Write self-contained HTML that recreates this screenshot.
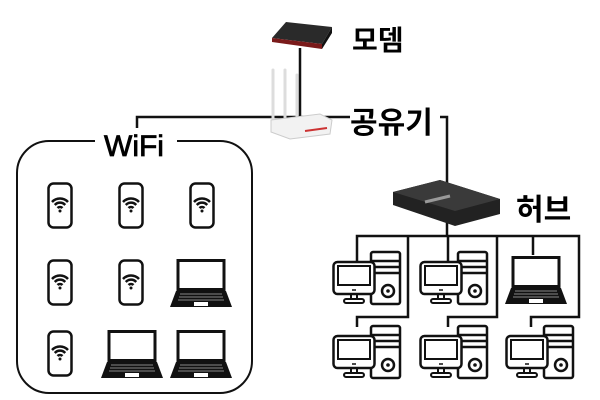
<!DOCTYPE html>
<html><head><meta charset="utf-8"><style>
html,body{margin:0;padding:0;background:#fff;width:600px;height:400px;overflow:hidden}
text{font-family:"Liberation Sans","Noto Sans CJK KR",sans-serif;font-weight:bold;fill:#000}
</style></head><body>
<svg width="600" height="400" viewBox="0 0 600 400" xmlns="http://www.w3.org/2000/svg">
<defs>
<g id="phone">
<rect x="1.5" y="1.5" width="23" height="44" rx="5" fill="#fff" stroke="#111" stroke-width="2.5"/>
<path d="M5 20 A11 11 0 0 1 21 20" fill="none" stroke="#111" stroke-width="2.5"/>
<path d="M7.8 23 A7 7 0 0 1 18.2 23" fill="none" stroke="#111" stroke-width="2.5"/>
<path d="M10.5 26 A3.5 3.5 0 0 1 15.5 26" fill="none" stroke="#111" stroke-width="2.5"/>
<circle cx="13" cy="29" r="1.5" fill="#111"/>
</g>
<g id="laptop">
<rect x="8" y="1.5" width="46" height="29" fill="#fff" stroke="#111" stroke-width="3"/>
<path d="M6 32 L56 32 L62 48 L0 48 Z" fill="#111"/>
<path d="M10 35 L52 35 M9 38 L53 38 M8 41 L54 41" stroke="#888" stroke-width="1"/>
<rect x="24" y="43" width="14" height="4" fill="#fff"/>
</g>
<g id="pc">
<rect x="39" y="0" width="29" height="52" rx="2" fill="#fff" stroke="#111" stroke-width="2.5"/>
<path d="M39 9 H68 M39 15 H68 M39 21 H68" stroke="#111" stroke-width="2.5"/>
<circle cx="56" cy="39" r="6" fill="none" stroke="#111" stroke-width="2.5"/>
<circle cx="56" cy="39" r="1.8" fill="#111"/>
<rect x="1.5" y="10" width="41" height="32" rx="4" fill="#fff" stroke="#111" stroke-width="2.5"/>
<rect x="6" y="14" width="32" height="19" fill="none" stroke="#111" stroke-width="2"/>
<path d="M20 38 H24" stroke="#111" stroke-width="1.5"/>
<path d="M19 42 V47 M25 42 V47" stroke="#111" stroke-width="2"/>
<rect x="12" y="47" width="20" height="4" rx="2" fill="#fff" stroke="#111" stroke-width="2"/>
</g>
</defs>

<g stroke="#111" stroke-width="2.5" fill="none">
<path d="M300 48 V116"/>
<path d="M137 130 V117 H350"/>
<path d="M440 117 H447 V236"/>
<path d="M357 262 V236 H579 V317 H531 V327"/>
<path d="M408 236 V317 H357 V327"/>
<path d="M448 236 V262"/>
<path d="M497 236 V317 H448 V327"/>
<path d="M533 236 V255"/>
</g>

<polygon points="272,38 286,22 332,27 322,44" fill="#2a2a2a"/>
<polygon points="272,38 322,44 322,49 272,42" fill="#7a1a1a"/>
<polygon points="322,44 332,27 332,33 322,49" fill="#111"/>

<g stroke="#ddd" stroke-width="3" stroke-linecap="round">
<path d="M273 70 V122 M285 70 V122 M297 75 V122"/>
</g>
<polygon points="271,120 320,114 332,120 330,134 290,139 271,132" fill="#f2f2f2" stroke="#ccc"/>
<path d="M305 131 L327 128" stroke="#c33" stroke-width="2"/>
<text x="352" y="50" font-size="28">모뎀</text>
<text x="350" y="133" font-size="30">공유기</text>

<polygon points="393,192 440,180 500,199 500,214 455,226 393,205" fill="#222"/>
<polygon points="393,192 440,180 500,199 455,211" fill="#3a3a3a"/>
<path d="M425 202 L450 196" stroke="#999" stroke-width="3"/>
<text x="516" y="220" font-size="30">허브</text>

<rect x="17" y="141" width="235" height="252" rx="32" fill="none" stroke="#111" stroke-width="2"/>
<rect x="95" y="128" width="82" height="28" fill="#fff"/>
<text x="104" y="156" font-size="30" style="font-weight:normal" stroke="#000" stroke-width="0.8">WiFi</text>

<use href="#phone" x="47" y="182"/>
<use href="#phone" x="118" y="182"/>
<use href="#phone" x="189" y="182"/>
<use href="#phone" x="47" y="259"/>
<use href="#phone" x="118" y="259"/>
<use href="#laptop" x="170" y="259"/>
<use href="#phone" x="47" y="330"/>
<use href="#laptop" x="101" y="330"/>
<use href="#laptop" x="170" y="330"/>

<use href="#pc" x="332" y="252"/>
<use href="#pc" x="419" y="252"/>
<use href="#laptop" x="505" y="256"/>
<use href="#pc" x="332" y="326"/>
<use href="#pc" x="419" y="326"/>
<use href="#pc" x="505" y="326"/>
</svg>
</body></html>
